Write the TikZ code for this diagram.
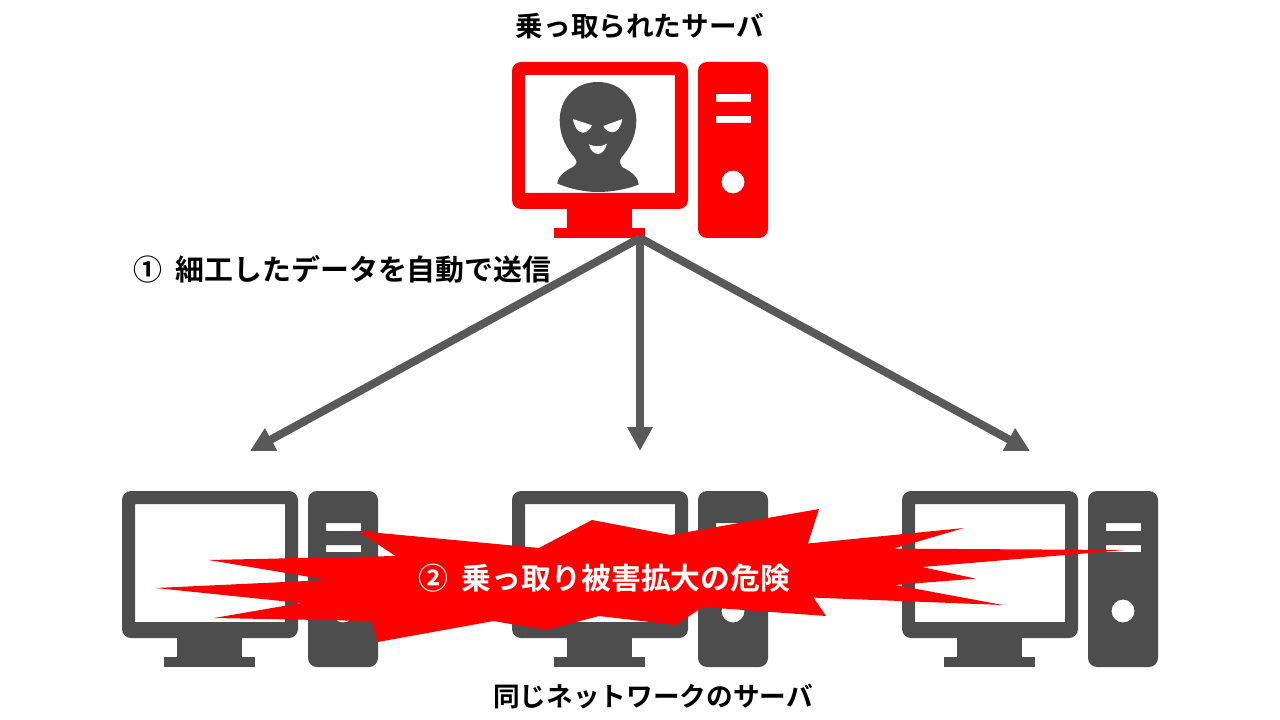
\documentclass[tikz,border=0pt]{standalone}
\usepackage{fontspec}
\usetikzlibrary{arrows.meta}
\newfontfamily\jpbold{Noto Sans CJK JP Bold}
\definecolor{pcgray}{HTML}{4D4D4D}
\definecolor{arrowgray}{HTML}{595959}
\definecolor{alarm}{HTML}{FF0000}
\tikzset{
  label text/.style={font=\jpbold\fontsize{20}{24}\selectfont, text=black, inner sep=0pt},
  burst text/.style={font=\jpbold\fontsize{22.4}{26}\selectfont, text=white, inner sep=0pt},
  link/.style={draw=arrowgray, line width=6pt, -{Triangle[length=18pt,width=18pt]}},
  pics/computer/.style={code={
    \fill[#1, even odd rule]
      [rounded corners=6.75pt] (0,0) rectangle (176,147)
      [sharp corners] (13,13) rectangle (163,131);
    \fill[#1] (55,147) rectangle (120,166);
    \fill[#1] (42,166) rectangle (133,176);
    \fill[#1, even odd rule]
      [rounded corners=6.75pt] (186,0) rectangle (256,176)
      [sharp corners] (204,32) rectangle (239,40)
      (204,54) rectangle (239,61)
      (221,120) circle (11.5);
  }}
}
\begin{document}
\begin{tikzpicture}[x=0.75pt,y=-0.75pt]
\useasboundingbox (0,0) rectangle (1280,720);
\fill[white] (0,0) rectangle (1280,720);

% computers
\pic at (512,62) {computer=alarm};
\pic at (122,491) {computer=pcgray};
\pic at (512,491) {computer=pcgray};
\pic at (902,491) {computer=pcgray};

% masked figure
\fill[pcgray] (597.7,82)
  .. controls (574,82) and (559.7,100) .. (559.7,120)
  .. controls (559.7,138) and (568,150) .. (575,158)
  .. controls (578,162) and (576,165) .. (573,167)
  .. controls (565,171) and (558,176) .. (557.3,183.5)
  .. controls (570,189) and (585,192) .. (598,192)
  .. controls (612,192) and (628,189) .. (638.7,184.5)
  .. controls (638,176) and (630,171) .. (622,167)
  .. controls (620,165) and (619,162) .. (621,158)
  .. controls (628,150) and (636.3,138) .. (636.3,120)
  .. controls (636.3,100) and (621,82) .. (597.7,82) -- cycle;
\fill[white] (573,119) -- (592,125.3) .. controls (590,130) and (586,132.7) .. (583,132.7)
  .. controls (578,132.7) and (574,127) .. (573,119) -- cycle;
\fill[white] (622.3,119) -- (603.3,126) .. controls (605,130) and (609,132.3) .. (612.7,132.3)
  .. controls (617,132.3) and (621,127) .. (622.3,119) -- cycle;
\fill[white] (589,144.3) .. controls (594,147) and (601,147) .. (607,143.7)
  .. controls (605,150) and (602,154) .. (598,154)
  .. controls (594,154) and (590,150) .. (589,144.3) -- cycle;

% arrows
\coordinate (src) at (640,238);
\coordinate (dstA) at (250,451);
\coordinate (dstB) at (640,451);
\coordinate (dstC) at (1030,451);
\draw[link] (src) -- (dstA);
\draw[link] (src) -- (dstB);
\draw[link] (src) -- (dstC);

% burst
\fill[alarm] (358,531) -- (539,548) -- (592,520) -- (670.5,535) -- (819,509) -- (808,543.5)
  -- (964,528) -- (893.5,548.6) -- (1125,550) -- (922,567) -- (975.6,578.6) -- (895,585)
  -- (1003,605) -- (813.5,597.6) -- (826,616) -- (702.6,607) -- (676,625) -- (599,616)
  -- (546,630) -- (493.5,621) -- (377.6,642) -- (372,621) -- (214,618) -- (301,603)
  -- (155.6,588) -- (328,580) -- (208.6,560) -- (395.5,556) -- cycle;

% labels
\node[label text, font=\jpbold\fontsize{20.7}{24}\selectfont] (top) at (640,26) {乗っ取られたサーバ};
\node[label text, font=\jpbold\fontsize{21.7}{26}\selectfont, anchor=west] (step1) at (133,269) {①\hspace{10pt}細工したデータを自動で送信};
\node[burst text] (step2) at (604.5,578) {②\hspace{10pt}乗っ取り被害拡大の危険};
\node[label text] (bottom) at (653,696) {同じネットワークのサーバ};
\end{tikzpicture}
\end{document}
